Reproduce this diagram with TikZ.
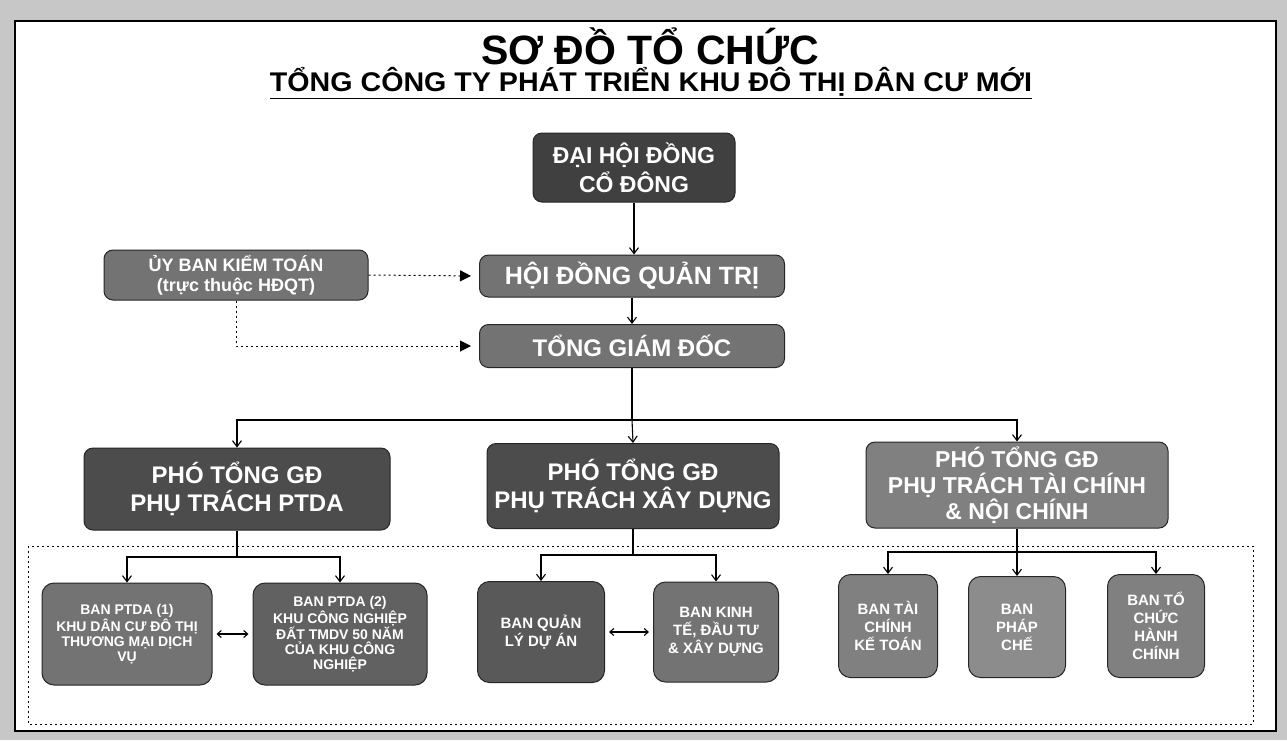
\documentclass[tikz,border=0pt]{standalone}
\usepackage{fontspec}
\setmainfont{Liberation Sans}
\usetikzlibrary{arrows.meta,calc}
\begin{document}
\begin{tikzpicture}[x=1pt,y=-1pt,
  bx/.style={draw=black!85,line width=1pt,rounded corners=9pt,inner sep=0pt,align=center,text=white,font=\bfseries},
  big/.style={bx,fill=black!70},
  mid/.style={bx,fill=black!55},
  lite/.style={bx,fill=black!50},
  sub/.style={bx,rounded corners=12pt,font=\bfseries\fontsize{14}{15}\selectfont},
  subb/.style={sub,font=\bfseries\fontsize{15}{18}\selectfont},
  arr/.style={line width=1.1pt,-{Straight Barb[length=6pt,width=9pt]}},
  dbl/.style={line width=1.1pt,{Straight Barb[length=4pt,width=7pt]}-{Straight Barb[length=4pt,width=7pt]},shorten <=4pt,shorten >=4pt},
  dot/.style={line width=1pt,dash pattern=on 2pt off 3pt,-{Triangle[length=11pt,width=11pt]},shorten >=8pt},
  frm/.style={line width=0.8pt,dash pattern=on 2pt off 3pt}]
\useasboundingbox (0,0) rectangle (1287,740);
% scan border
\fill[black!22] (0,0) rectangle (1287,740);
\fill[white] (15,21) rectangle (1276,731);
\draw[line width=1.6pt] (15,21) rectangle (1276,731);
% titles
\node (title) at (650,46) {\bfseries\fontsize{41}{44}\selectfont SƠ ĐỒ TỔ CHỨC};
\node (subt) at (651,83) {\bfseries\fontsize{27}{30}\selectfont\scalebox{1.06}[1]{\underline{TỔNG CÔNG TY PHÁT TRIỂN KHU ĐÔ THỊ DÂN CƯ MỚI}}};
% top boxes
\node[big,fill=black!75,minimum width=202pt,minimum height=69pt,font=\bfseries\fontsize{23}{29}\selectfont] (dh) at (634,167.5) {ĐẠI HỘI ĐỒNG\\CỔ ĐÔNG};
\node[mid,minimum width=305pt,minimum height=42pt,font=\bfseries\fontsize{25}{28}\selectfont] (hd) at (632,276) {HỘI ĐỒNG QUẢN TRỊ};
\node[mid,minimum width=264pt,minimum height=50pt,font=\bfseries\fontsize{18}{20}\selectfont] (ub) at (236,275) {ỦY BAN KIỂM TOÁN\\(trực thuộc HĐQT)};
\node[mid,minimum width=305pt,minimum height=43pt,font=\bfseries\fontsize{24}{27}\selectfont] (tg) at (632,346) {TỔNG GIÁM ĐỐC};
% deputy boxes
\node[big,minimum width=306pt,minimum height=82pt,font=\bfseries\fontsize{24}{28}\selectfont] (p1) at (237,489) {PHÓ TỔNG GĐ\\PHỤ TRÁCH PTDA};
\node[big,minimum width=292pt,minimum height=85pt,font=\bfseries\fontsize{24}{28}\selectfont] (p2) at (633,486) {PHÓ TỔNG GĐ\\PHỤ TRÁCH XÂY DỰNG};
\node[lite,minimum width=302pt,minimum height=86pt,font=\bfseries\fontsize{23}{26}\selectfont] (p3) at (1017,485) {PHÓ TỔNG GĐ\\PHỤ TRÁCH TÀI CHÍNH\\\& NỘI CHÍNH};
% dashed frame
\draw[frm] (28,546) rectangle (1253,724);
% sub boxes
\node[sub,fill=black!55,minimum width=170pt,minimum height=102pt] (s1) at (127,634) {BAN PTDA (1)\\KHU DÂN CƯ ĐÔ THỊ\\THƯƠNG MẠI DỊCH\\VỤ};
\node[sub,fill=black!62,minimum width=174pt,minimum height=102pt] (s2) at (340,634) {BAN PTDA (2)\\KHU CÔNG NGHIỆP\\ĐẤT TMDV 50 NĂM\\CỦA KHU CÔNG\\NGHIỆP};
\node[subb,fill=black!65,minimum width=127pt,minimum height=101pt] (s3) at (541,632) {BAN QUẢN\\LÝ DỰ ÁN};
\node[subb,fill=black!55,minimum width=125pt,minimum height=100pt] (s4) at (716,632) {BAN KINH\\TẾ, ĐẦU TƯ\\\& XÂY DỰNG};
\node[subb,fill=black!50,minimum width=99pt,minimum height=103pt] (s5) at (888,626) {BAN TÀI\\CHÍNH\\KẾ TOÁN};
\node[subb,fill=black!45,minimum width=97pt,minimum height=101pt] (s6) at (1017,627) {BAN\\PHÁP\\CHẾ};
\node[subb,fill=black!50,minimum width=97pt,minimum height=103pt] (s7) at (1156,626) {BAN TỔ\\CHỨC\\HÀNH\\CHÍNH};
% junction coordinates
\coordinate (jb) at (632,420);
\coordinate (j1) at (237,557);
\coordinate (j2) at (633,555);
\coordinate (j3) at (1017,552);
% connectors
\draw[arr] (dh.south) -- (hd.north -| dh.south);
\draw[arr] (hd.south) -- (tg.north);
\draw[dot] (ub.east) -- (hd.west);
\draw[dot] (ub.south) |- (tg.west);
\draw[line width=1.1pt] (tg.south) -- (jb);
\draw[arr] (jb) -| (p1.north);
\draw[arr] (jb) -| (p3.north);
\draw[arr] (jb) -- (p2.north);
\draw[line width=1.1pt] (p1.south) -- (j1);
\draw[arr] (j1) -| (s1.north);
\draw[arr] (j1) -| (s2.north);
\draw[line width=1.1pt] (p2.south) -- (j2);
\draw[arr] (j2) -| (s3.north);
\draw[arr] (j2) -| (s4.north);
\draw[line width=1.1pt] (p3.south) -- (j3);
\draw[arr] (j3) -| (s5.north);
\draw[arr] (j3) -- (s6.north);
\draw[arr] (j3) -| (s7.north);
\draw[dbl] (s1.east) -- (s2.west);
\draw[dbl] (s3.east) -- (s4.west);
\end{tikzpicture}
\end{document}
